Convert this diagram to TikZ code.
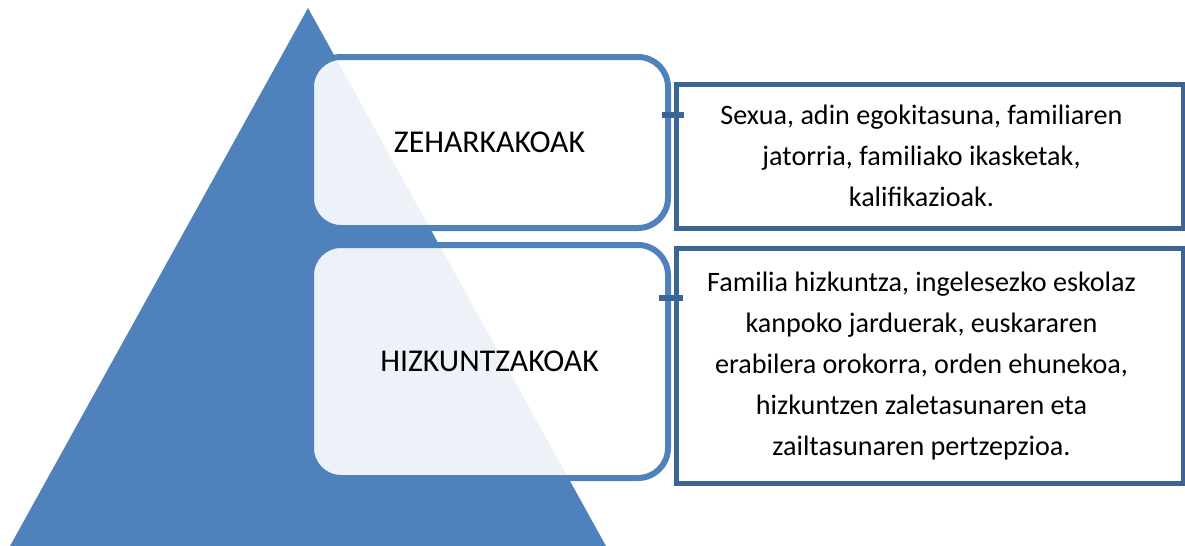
\documentclass[tikz,border=0pt]{standalone}
\usepackage{fontspec}
\setmainfont{Carlito}
\definecolor{pyrblue}{HTML}{4F81BD}
\definecolor{pyrdark}{HTML}{3C6494}
\tikzset{
  level/.style={draw=pyrblue, line width=4.5pt, fill=white, fill opacity=0.9, text opacity=1,
    rounded corners=22.5pt, minimum width=267.75pt, inner sep=0pt, outer sep=0pt,
    font=\fontsize{23.8}{30.75}\selectfont},
  detail/.style={draw=pyrdark, line width=3.75pt, fill=white, minimum width=380.25pt,
    inner sep=0pt, outer sep=0pt},
  detailtext/.style={align=center, font=\fontsize{21.1}{30.75}\selectfont},
  link/.style={draw=pyrdark, line width=4pt}
}

\begin{document}
\begin{tikzpicture}[x=0.75pt, y=-0.75pt]
    \useasboundingbox (0,0) rectangle (1185,546);
    % pyramid
    \fill[pyrblue] (308,8) -- (606,546) -- (10,546) -- cycle;
    % levels
    \node[level, minimum height=128.25pt] (zeh) at (489.5,142.5) {ZEHARKAKOAK};
    \node[level, minimum height=174.75pt] (hiz) at (489.5,361.5) {HIZKUNTZAKOAK};
    % details
    \node[detail, minimum height=108pt] (zehd) at (929.5,156) {};
    \node[detail, minimum height=176.25pt] (hizd) at (929.5,365.5) {};
    \node[detailtext] (zehtxt) at ([xshift=-6pt]zehd.center)
        {Sexua, adin egokitasuna, familiaren\\ jatorria, familiako ikasketak,\\ kalifikazioak.};
    \node[detailtext] (hiztxt) at ([xshift=-6pt]hizd.center)
        {Familia hizkuntza, ingelesezko eskolaz\\ kanpoko jarduerak, euskararen\\ erabilera orokorra, orden ehunekoa,\\ hizkuntzen zaletasunaren eta\\ zailtasunaren pertzepzioa.};
    % links
    \coordinate (k1) at (0,115);
    \coordinate (k2) at (0,298);
    \draw[link] ([xshift=-4.5pt]zeh.east |- k1) -- ([xshift=6pt]zehd.west |- k1);
    \draw[link] ([xshift=-6.75pt]hiz.east |- k2) -- ([xshift=5.25pt]hizd.west |- k2);
\end{tikzpicture}
\end{document}
